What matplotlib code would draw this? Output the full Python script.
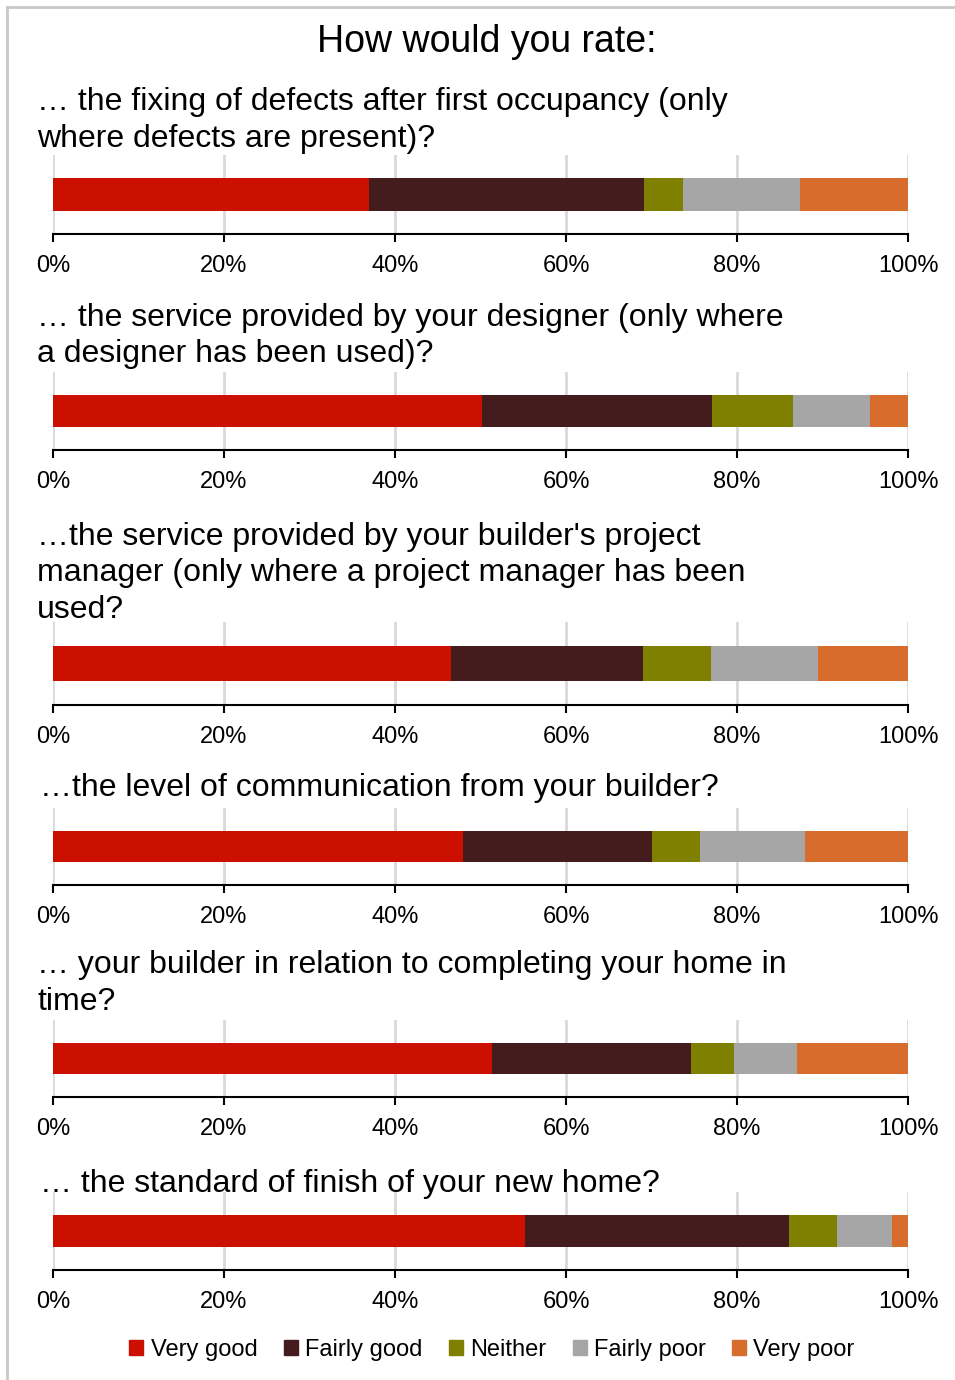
import matplotlib
matplotlib.use("Agg")
import matplotlib.pyplot as plt
from matplotlib.lines import Line2D
from matplotlib.ticker import FuncFormatter

plt.rcParams['font.family'] = ['Liberation Sans', 'DejaVu Sans']

title = "How would you rate:"
questions = [
    "… the fixing of defects after first occupancy (only\nwhere defects are present)?",
    "… the service provided by your designer (only where\na designer has been used)?",
    "…the service provided by your builder's project\nmanager (only where a project manager has been\nused?",
    "…the level of communication from your builder?",
    "… your builder in relation to completing your home in\ntime?",
    "… the standard of finish of your new home?",
]
categories = ["Very good", "Fairly good", "Neither", "Fairly poor", "Very poor"]
colors = ["#CC1000", "#451C1E", "#808000", "#A6A6A6", "#D86C2C"]

# percentages per question, one list per rating category
very_good = [37.0, 50.2, 46.5, 48.0, 51.3, 55.2]
fairly_good = [32.1, 26.9, 22.5, 22.1, 23.3, 30.9]
neither = [4.6, 9.5, 8.0, 5.6, 5.0, 5.6]
fairly_poor = [13.7, 9.0, 12.5, 12.2, 7.4, 6.4]
very_poor = [12.6, 4.4, 10.5, 12.1, 13.0, 1.9]
series = [very_good, fairly_good, neither, fairly_poor, very_poor]

W, H = 955, 1380
fig = plt.figure(figsize=(W / 100, H / 100), dpi=100)

# light frame on the top and left edges
fig.add_artist(Line2D([7 / W, 7 / W], [0, 1 - 7 / H], transform=fig.transFigure,
                      color="#C8C8C8", lw=2))
fig.add_artist(Line2D([7 / W, 1], [1 - 7 / H, 1 - 7 / H], transform=fig.transFigure,
                      color="#C8C8C8", lw=2))

fig.text(487 / W, 1 - 42 / H, title, ha="center", va="center", fontsize=27)

# pixel layout: text left, first text baseline, axes top, axes bottom
layout = [(37, 110, 155, 234), (37, 326, 372, 450), (37, 545, 622, 705),
          (40, 796, 808, 885), (37, 973, 1020, 1097), (40, 1192, 1192, 1270)]
x0, x1 = 53, 908
line_step = 36.5

for i, (q, (tx, base, top, bottom)) in enumerate(zip(questions, layout)):
    for j, line in enumerate(q.split("\n")):
        fig.text(tx / W, 1 - (base + j * line_step) / H, line, ha="left",
                 va="baseline", fontsize=23)

    ax = fig.add_axes([x0 / W, 1 - bottom / H, (x1 - x0) / W, (bottom - top) / H])
    left = 0
    for vals, name, c in zip(series, categories, colors):
        ax.barh(0, vals[i], left=left, height=0.41, color=c, label=name, zorder=3)
        left += vals[i]

    ax.set_xlim(0, 100)
    ax.set_ylim(-0.5, 0.5)
    ax.set_xticks(range(0, 101, 20))
    ax.xaxis.set_major_formatter(FuncFormatter(lambda v, p: f"{v:.0f}%"))
    ax.set_yticks([])
    ax.grid(axis="x", color="#D9D9D9", lw=2, zorder=0)
    for s in ["top", "left", "right"]:
        ax.spines[s].set_visible(False)
    ax.spines["bottom"].set_linewidth(1.5)
    ax.tick_params(axis="x", length=6, width=1.5, direction="out", pad=9,
                   labelsize=17)

handles = [plt.Rectangle((0, 0), 1, 1, color=c) for c in colors]
fig.legend(handles, categories, loc="center", bbox_to_anchor=(492 / W, 1 - 1350 / H),
           ncol=5, frameon=False, fontsize=17, handlelength=0.6, handleheight=0.6,
           handletextpad=0.3, columnspacing=1.12, borderpad=0)

fig.savefig("out.png", dpi=100)
